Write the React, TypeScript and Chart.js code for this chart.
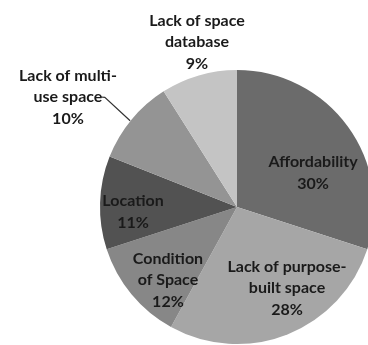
import React, { useEffect, useRef } from "react";
import { Chart, registerables } from "chart.js";

Chart.register(...registerables);

const categories = [
  "Affordability",
  "Lack of purpose-built space",
  "Condition of Space",
  "Location",
  "Lack of multi-use space",
  "Lack of space database",
];
const values = [30, 28, 12, 11, 10, 9];
const labelLines = [
  ["Affordability", "30%"],
  ["Lack of purpose-", "built space", "28%"],
  ["Condition", "of Space", "12%"],
  ["Location", "11%"],
  ["Lack of multi-", "use space", "10%"],
  ["Lack of space", "database", "9%"],
];
const colors = ["#6b6b6b", "#a6a6a6", "#878787", "#525252", "#949494", "#c4c4c4"];
// label block centre, in units of the pie radius, relative to the pie centre
const labelOffsets: [number, number][] = [
  [0.555, -0.248],
  [0.365, 0.591],
  [-0.504, 0.533],
  [-0.759, 0.036],
  [-1.234, -0.803],
  [-0.292, -1.204],
];

const labelPlugin = {
  id: "sliceLabels",
  afterDatasetsDraw(chart: any) {
    const meta = chart.getDatasetMeta(0);
    const arc0 = meta.data[0];
    if (!arc0) return;
    const { x: cx, y: cy, outerRadius: r } = arc0.getProps(["x", "y", "outerRadius"], true);
    const ctx = chart.ctx;
    ctx.save();
    ctx.fillStyle = "#1a1a1a";
    ctx.font = "bold 16px Lato";
    ctx.textAlign = "center";
    ctx.textBaseline = "middle";
    const lh = 21.5;
    labelLines.forEach((lines, i) => {
      const [ox, oy] = labelOffsets[i];
      const x = cx + ox * r;
      const y0 = cy + oy * r - ((lines.length - 1) * lh) / 2;
      lines.forEach((t, j) => ctx.fillText(t, x, y0 + j * lh));
    });
    // leader line for "Lack of multi-use space"
    ctx.strokeStyle = "#333";
    ctx.lineWidth = 1.2;
    ctx.beginPath();
    ctx.moveTo(cx - 0.995 * r, cy - 0.803 * r);
    ctx.lineTo(cx - 0.965 * r, cy - 0.80 * r);
    ctx.lineTo(cx - 0.78 * r, cy - 0.63 * r);
    ctx.stroke();
    ctx.restore();
  },
};

export default function App() {
  const ref = useRef<HTMLCanvasElement>(null);
  useEffect(() => {
    if (!ref.current) return;
    const chart = new Chart(ref.current, {
      type: "pie",
      data: {
        labels: categories,
        datasets: [
          {
            data: values,
            backgroundColor: colors,
            borderWidth: 0,
            hoverOffset: 0,
          },
        ],
      },
      options: {
        responsive: false,
        animation: false,
        devicePixelRatio: 1,
        layout: { padding: { left: 100, top: 70, right: 6, bottom: 6 } },
        plugins: { legend: { display: false }, tooltip: { enabled: false } },
      },
      plugins: [labelPlugin],
    });
    return () => chart.destroy();
  }, []);
  return (
    <div
      style={{
        position: "fixed",
        left: 0,
        top: 0,
        width: 368,
        height: 345,
        overflow: "hidden",
        background: "#fff",
      }}
    >
      <canvas ref={ref} width={380} height={350} style={{ display: "block" }} />
    </div>
  );
}
